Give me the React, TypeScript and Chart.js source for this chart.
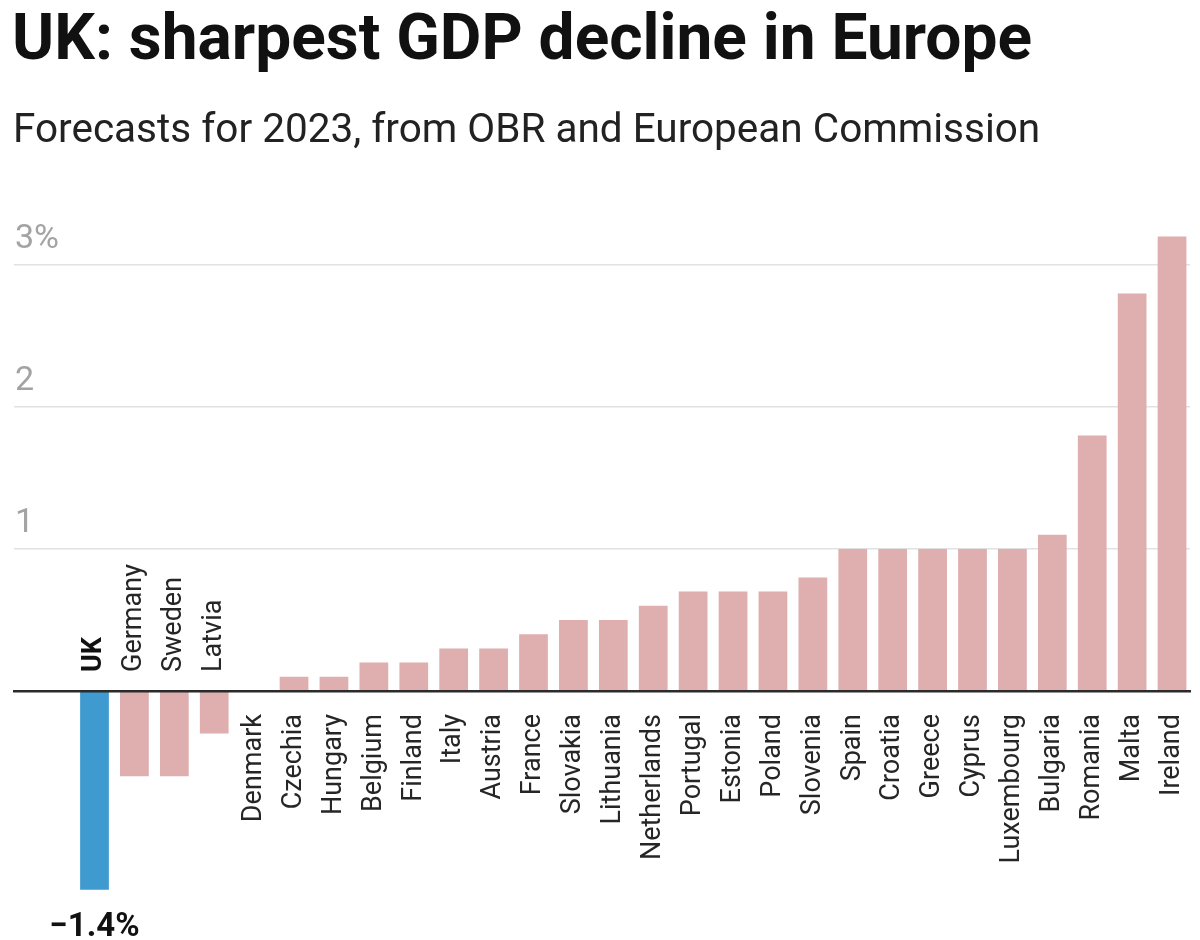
import { useEffect, useRef } from "react";
import { Chart, registerables } from "chart.js";

Chart.register(...registerables);

const titleText = "UK: sharpest GDP decline in Europe";
const subtitleText = "Forecasts for 2023, from OBR and European Commission";

const countries = [
  "UK", "Germany", "Sweden", "Latvia", "Denmark", "Czechia", "Hungary",
  "Belgium", "Finland", "Italy", "Austria", "France", "Slovakia", "Lithuania",
  "Netherlands", "Portugal", "Estonia", "Poland", "Slovenia", "Spain",
  "Croatia", "Greece", "Cyprus", "Luxembourg", "Bulgaria", "Romania",
  "Malta", "Ireland",
];

const growth = [
  -1.4, -0.6, -0.6, -0.3, 0.0, 0.1, 0.1,
  0.2, 0.2, 0.3, 0.3, 0.4, 0.5, 0.5,
  0.6, 0.7, 0.7, 0.7, 0.8, 1.0,
  1.0, 1.0, 1.0, 1.0, 1.1, 1.8,
  2.8, 3.2,
];

const highlight = "UK";
const yTicks = [1, 2, 3];
const yTickLabels = ["1", "2", "3%"];
const yRange = [-1.6, 3.3];
const xRange = [-2.017, 27.45];

const PINK = "#dfaeae";
const BLUE = "#3f9ad0";

const fmtValue = (v: number) => (v < 0 ? "\u2212" : "") + Math.abs(v).toFixed(1) + "%";

const labelPlugin = {
  id: "countryLabels",
  afterDatasetsDraw(chart: any) {
    const ctx = chart.ctx as CanvasRenderingContext2D;
    const xs = chart.scales.x;
    const ys = chart.scales.y;
    const y0 = ys.getPixelForValue(0);
    countries.forEach((name, i) => {
      const x = xs.getPixelForValue(i);
      const v = growth[i];
      const hi = name === highlight;
      ctx.save();
      ctx.translate(x, y0);
      ctx.rotate(-Math.PI / 2);
      ctx.font = `${hi ? "bold " : ""}27px Roboto`;
      ctx.fillStyle = hi ? "#111" : "#262626";
      ctx.textBaseline = "middle";
      if (v < 0) {
        ctx.textAlign = "left";
        ctx.fillText(name, 19, 0);
      } else {
        ctx.textAlign = "right";
        ctx.fillText(name, -23, 0);
      }
      ctx.restore();
      if (hi) {
        ctx.save();
        ctx.font = "bold 33px Roboto";
        ctx.fillStyle = "#111";
        ctx.textAlign = "center";
        ctx.textBaseline = "alphabetic";
        ctx.fillText(fmtValue(v), x, ys.getPixelForValue(v) + 46);
        ctx.restore();
      }
    });
  },
};

export default function App() {
  const ref = useRef<HTMLCanvasElement>(null);

  useEffect(() => {
    const chart = new Chart(ref.current!, {
      type: "bar",
      data: {
        datasets: [
          {
            data: countries.map((c, i) => ({ x: i, y: growth[i] })),
            backgroundColor: countries.map((c) => (c === highlight ? BLUE : PINK)),
            borderWidth: 0,
            categoryPercentage: 1,
            barPercentage: 0.72,
          },
        ],
      },
      options: {
        responsive: false,
        animation: false,
        events: [],
        layout: { padding: { left: 12, right: 10, top: 222.4, bottom: 21.8 } },
        plugins: {
          legend: { display: false },
          title: { display: false },
          tooltip: { enabled: false },
        },
        scales: {
          x: {
            type: "linear",
            min: xRange[0],
            max: xRange[1],
            offset: false,
            position: { y: 0 } as any,
            grid: { display: false, drawTicks: false },
            ticks: { display: false },
            border: { display: true, color: "#2b2b2b", width: 2.5, z: 1 },
          },
          y: {
            type: "linear",
            min: yRange[0],
            max: yRange[1],
            afterBuildTicks: (scale: any) => {
              scale.ticks = yTicks.map((v) => ({ value: v }));
            },
            grid: { color: "#e2e2e2", lineWidth: 1.5, drawTicks: false },
            border: { display: false },
            ticks: {
              mirror: true,
              padding: 1,
              labelOffset: -26,
              color: "#a3a3a3",
              font: { family: "Roboto", size: 34 },
              callback: (value: any) => {
                const idx = yTicks.indexOf(Number(value));
                return idx >= 0 ? yTickLabels[idx] : "";
              },
            },
          },
        },
      },
      plugins: [labelPlugin],
    });
    return () => chart.destroy();
  }, []);

  return (
    <div
      style={{
        position: "fixed",
        left: 0,
        top: 0,
        width: 1200,
        height: 940,
        background: "#fff",
        fontFamily: "Roboto, sans-serif",
        overflow: "hidden",
      }}
    >
      <canvas
        ref={ref}
        width={1200}
        height={940}
        style={{ position: "absolute", left: 0, top: 0, width: 1200, height: 940 }}
      />
      <div
        style={{
          position: "absolute",
          left: 12,
          top: 6,
          fontSize: 64,
          lineHeight: "64px",
          fontWeight: 700,
          color: "#111",
          whiteSpace: "nowrap",
        }}
      >
        {titleText}
      </div>
      <div
        style={{
          position: "absolute",
          left: 13,
          top: 108,
          fontSize: 40.5,
          lineHeight: "40.5px",
          fontWeight: 400,
          color: "#222",
          whiteSpace: "nowrap",
        }}
      >
        {subtitleText}
      </div>
    </div>
  );
}
